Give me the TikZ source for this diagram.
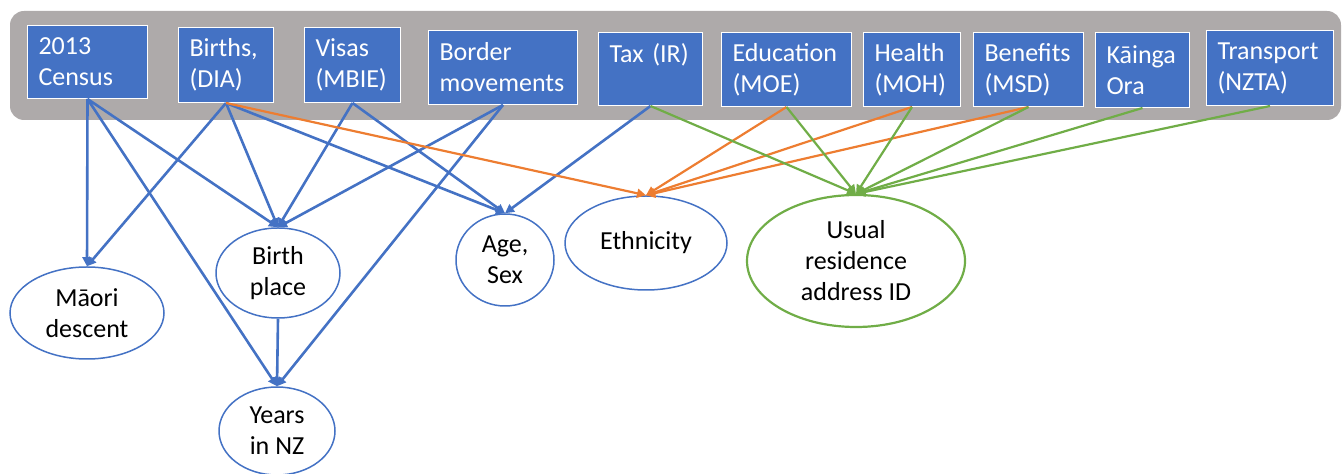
\documentclass[tikz,border=0pt]{standalone}
\usepackage{fontspec}
\setmainfont{Carlito}
\usetikzlibrary{shapes.geometric,arrows.meta}

\definecolor{srcblue}{HTML}{4472C4}
\definecolor{linkorange}{HTML}{ED7D31}
\definecolor{linkgreen}{HTML}{70AD47}
\definecolor{bandgray}{HTML}{AEAAAA}

\tikzset{
  src/.style={rectangle, fill=srcblue, draw=white, line width=0.5pt, text=white,
    align=left, anchor=north west, inner xsep=5.5pt, inner ysep=0pt,
    font=\fontsize{13pt}{15.5pt}\selectfont},
  var/.style={ellipse, draw=srcblue, line width=0.75pt, inner sep=0pt, align=center,
    font=\fontsize{13pt}{15.5pt}\selectfont},
  link/.style={line width=1.1pt, -{Triangle[length=4.5pt,width=4.5pt]}},
}

\begin{document}
\begin{tikzpicture}[x=0.5pt,y=-0.5pt]
  \useasboundingbox (0,0) rectangle (1342,474);
  % data sources
  \fill[bandgray, rounded corners=7pt] (10,11) rectangle (1341,120);
  \node[src, text width=49pt, minimum height=36.5pt] (census) at (27,25) {2013\\Census};
  \node[src, text width=36.5pt, minimum height=37.5pt] (births) at (178,27) {Births,\\(DIA)};
  \node[src, text width=37pt, minimum height=37.5pt] (visas) at (304,27) {Visas\\(MBIE)};
  \node[src, text width=63.5pt, minimum height=37pt] (border) at (428,30) {Border\\movements};
  \node[src, text width=41pt, minimum height=36.5pt] (tax) at (598,32) {Tax (IR)\\~};
  \node[src, text width=54pt, minimum height=37pt] (edu) at (721,32) {Education\\(MOE)};
  \node[src, text width=37.5pt, minimum height=37pt] (health) at (863,32) {Health\\(MOH)};
  \node[src, text width=44pt, minimum height=37pt] (benefits) at (973,32) {Benefits\\(MSD)};
  \node[src, text width=36pt, minimum height=37.5pt] (kainga) at (1095,32) {Kāinga\\Ora};
  \node[src, text width=52.5pt, minimum height=37.5pt] (transport) at (1206,30) {Transport\\(NZTA)};

  % derived variables
  \node[var, minimum width=77pt, minimum height=46pt] (maori) at (87,313) {Māori\\descent};
  \node[var, minimum width=62pt, minimum height=45pt] (birthplace) at (278,273) {Birth\\place};
  \node[var, minimum width=58pt, minimum height=44pt] (years) at (277,431) {Years\\in NZ};
  \node[var, minimum width=49pt, minimum height=46pt] (age) at (505,260) {Age,\\Sex};
  \node[var, minimum width=81pt, minimum height=47pt] (ethnicity) at (646,243) {Ethnicity};
  \node[var, draw=linkgreen, line width=1.1pt, minimum width=109pt, minimum height=66pt]
    (residence) at (856,261) {Usual\\residence\\address ID};

  % links
  \draw[link, srcblue, line width=1.3pt] (census.south) -- (maori.north);
  \draw[link, srcblue, line width=1.3pt] (census.south) -- (birthplace.north);
  \draw[link, srcblue, line width=1.3pt] (census.south) -- (years.north);
  \draw[link, srcblue, line width=1.3pt] (births.south) -- (maori.north);
  \draw[link, srcblue, line width=1.3pt] (births.south) -- (birthplace.north);
  \draw[link, srcblue, line width=1.3pt] (births.south) -- (age.north);
  \draw[link, srcblue, line width=1.3pt] (visas.south) -- (birthplace.north);
  \draw[link, srcblue, line width=1.3pt] (visas.south) -- (age.north);
  \draw[link, srcblue, line width=1.3pt] (border.south) -- (birthplace.north);
  \draw[link, srcblue, line width=1.3pt] (border.south) -- (years.north);
  \draw[link, srcblue, line width=1.3pt] (tax.south) -- (age.north);
  \draw[link, srcblue, line width=1.3pt] (birthplace.south) -- (years.north);

  \draw[link, linkorange] (births.south) -- (ethnicity.north);
  \draw[link, linkorange] (edu.south) -- (ethnicity.north);
  \draw[link, linkorange] (health.south) -- (ethnicity.north);
  \draw[link, linkorange] (benefits.south) -- (ethnicity.north);

  \draw[link, linkgreen] (tax.south) -- (residence.north);
  \draw[link, linkgreen] (edu.south) -- (residence.north);
  \draw[link, linkgreen] (health.south) -- (residence.north);
  \draw[link, linkgreen] (benefits.south) -- (residence.north);
  \draw[link, linkgreen] (kainga.south) -- (residence.north);
  \draw[link, linkgreen] (transport.south) -- (residence.north);
\end{tikzpicture}
\end{document}
